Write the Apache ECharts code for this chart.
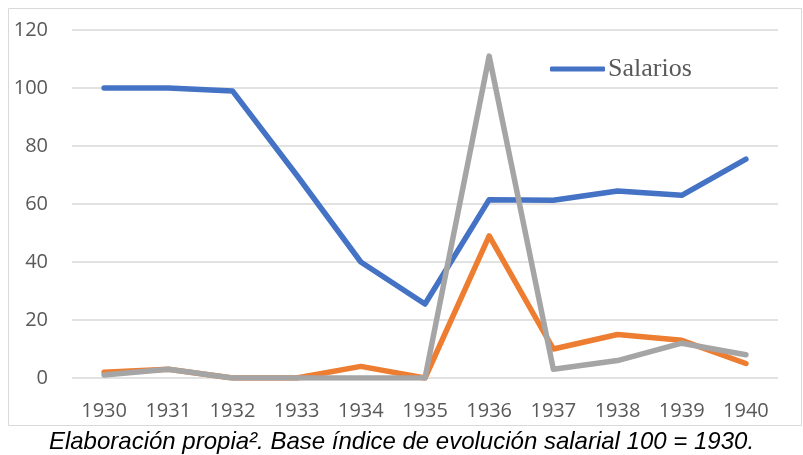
<!DOCTYPE html>
<html>
<head>
<meta charset="utf-8">
<script src="https://cdn.jsdelivr.net/npm/echarts@6/dist/echarts.min.js"></script>
<style>
  html, body { margin: 0; padding: 0; background: #fff; }
  #chart { width: 803px; height: 455px; }
</style>
</head>
<body>
<div id="chart"></div>
<script>
const years = ['1930', '1931', '1932', '1933', '1934', '1935', '1936', '1937', '1938', '1939', '1940'];
const salarios = [100, 100, 99, 70, 40, 25.5, 61.5, 61.3, 64.5, 63, 75.5];
const serieNaranja = [2, 3, 0, 0, 4, 0, 49, 10, 15, 13, 5];
const serieGris = [1, 3, 0, 0, 0, 0, 111, 3, 6, 12, 8];
const yTicks = { min: 0, max: 120, interval: 20 };

const chart = echarts.init(document.getElementById('chart'));

const lineSeries = (name, data, color) => ({
  name: name,
  type: 'line',
  data: data,
  showSymbol: false,
  symbol: 'none',
  lineStyle: { color: color, width: 5.5, cap: 'round', join: 'round' },
  itemStyle: { color: color },
  emphasis: { disabled: true },
  animation: false
});

chart.setOption({
  animation: false,
  graphic: [{
    type: 'rect',
    shape: { x: 8.5, y: 8.5, width: 793, height: 417 },
    style: { fill: 'none', stroke: '#d9d9d9', lineWidth: 1 },
    z: -1
  }],
  title: {
    text: 'Elaboración propia². Base índice de evolución salarial 100 = 1930.',
    left: 'center',
    top: 429,
    padding: 0,
    textStyle: {
      fontFamily: 'Liberation Sans',
      fontStyle: 'italic',
      fontWeight: 'normal',
      fontSize: 24,
      lineHeight: 27,
      color: '#000'
    }
  },
  legend: {
    data: ['Salarios'],
    left: 545,
    top: 51,
    icon: 'roundRect',
    itemWidth: 55,
    itemHeight: 5,
    textStyle: { fontFamily: 'Liberation Serif', fontSize: 26, color: '#595959', padding: [0, 0, 0, -2] }
  },
  grid: { left: 72, right: 25, top: 30, bottom: 77 },
  xAxis: {
    type: 'category',
    data: years,
    boundaryGap: true,
    axisLine: { show: false },
    axisTick: { show: false },
    axisLabel: { color: '#595959', fontFamily: 'Open Sans', fontSize: 20, margin: 23 }
  },
  yAxis: {
    type: 'value',
    min: yTicks.min,
    max: yTicks.max,
    interval: yTicks.interval,
    axisLine: { show: false },
    axisTick: { show: false },
    axisLabel: { color: '#595959', fontFamily: 'Open Sans', fontSize: 20, margin: 24 },
    splitLine: { lineStyle: { color: '#d9d9d9', width: 1.5 } }
  },
  series: [
    lineSeries('Salarios', salarios, '#4472C4'),
    lineSeries('Serie 2', serieNaranja, '#ED7D31'),
    lineSeries('Serie 3', serieGris, '#A5A5A5')
  ]
});
</script>
</body>
</html>
